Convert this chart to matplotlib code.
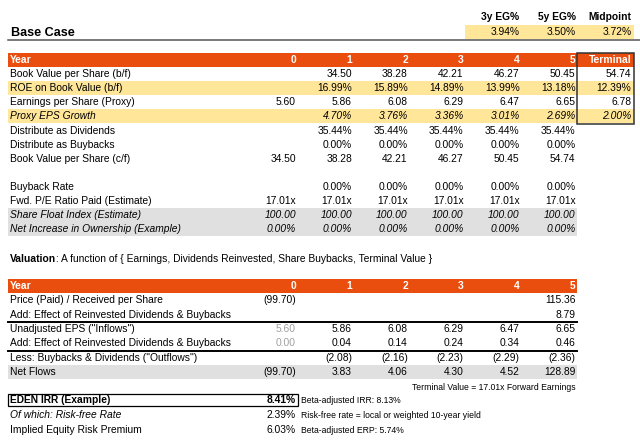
import matplotlib.pyplot as plt
from matplotlib.patches import Rectangle

plt.rcParams['font.family'] = ['Liberation Sans', 'DejaVu Sans']

# ---- data ----
years = ['0', '1', '2', '3', '4', '5']
growth_hdr = ['3y EG%', '5y EG%', 'Midpoint']
growth_vals = [3.94, 3.50, 3.72]

# base case (last entry = Terminal column where present)
bv_bf = [None, 34.50, 38.28, 42.21, 46.27, 50.45, 54.74]
roe = [None, 16.99, 15.89, 14.89, 13.99, 13.18, 12.39]
eps = [5.60, 5.86, 6.08, 6.29, 6.47, 6.65, 6.78]
eps_growth = [None, 4.70, 3.76, 3.36, 3.01, 2.69, 2.00]
div_share = [None, 35.44, 35.44, 35.44, 35.44, 35.44]
buyback_share = [None, 0.00, 0.00, 0.00, 0.00, 0.00]
bv_cf = [34.50, 38.28, 42.21, 46.27, 50.45, 54.74]
buyback_rate = [None, 0.00, 0.00, 0.00, 0.00, 0.00]
pe_paid = [17.01, 17.01, 17.01, 17.01, 17.01, 17.01]
float_index = [100.00, 100.00, 100.00, 100.00, 100.00, 100.00]
net_increase = [0.00, 0.00, 0.00, 0.00, 0.00, 0.00]

# valuation
price = [-99.70, None, None, None, None, 115.36]
reinvest_add = [None, None, None, None, None, 8.79]
unadj_eps = [5.60, 5.86, 6.08, 6.29, 6.47, 6.65]
reinvest_eps = [0.00, 0.04, 0.14, 0.24, 0.34, 0.46]
outflows = [None, -2.08, -2.16, -2.23, -2.29, -2.36]
net_flows = [-99.70, 3.83, 4.06, 4.30, 4.52, 128.89]

irr = 8.41
risk_free = 2.39
erp = 6.03
beta_irr = 8.13
beta_erp = 5.74
terminal_pe = 17.01

ORANGE = '#EA4E0F'
YELLOW = '#FFE699'
GRAY = '#E0E0E0'
FS = 7.4
SMALL = 6.2


def fmt(v, kind):
    if v is None:
        return ''
    if kind == 'pct':
        return '%.2f%%' % v
    if kind == 'x':
        return '%.2fx' % v
    if v < 0:
        return '(%.2f)' % -v
    return '%.2f' % v


fig = plt.figure(figsize=(6.4, 4.41), dpi=100)
ax = fig.add_axes([0, 0, 1, 1])
ax.set_xlim(0, 640)
ax.set_ylim(441, 0)
ax.axis('off')

left, right5, right_t = 8, 577, 633.5
col_r = [296 + 55.9 * k for k in range(7)]

# title and growth box
ax.text(11, 33, 'Base Case', fontsize=9.1, fontweight='bold', va='center')
ax.plot([left, 640], [40, 40], color='#555555', lw=1.1)
ax.add_patch(Rectangle((465, 25), right_t - 465, 14, color=YELLOW, lw=0))
for k in range(3):
    ax.text(col_r[4 + k], 17, growth_hdr[k], fontsize=FS, fontweight='bold', ha='right', va='center')
    ax.text(col_r[4 + k], 32, fmt(growth_vals[k], 'pct'), fontsize=FS, ha='right', va='center')

# base case table
top, rh = 53, 14.1
rows = [
    ('Book Value per Share (b/f)', bv_bf, 'num', None, False),
    ('ROE on Book Value (b/f)', roe, 'pct', YELLOW, False),
    ('Earnings per Share (Proxy)', eps, 'num', None, False),
    ('Proxy EPS Growth', eps_growth, 'pct', YELLOW, True),
    ('Distribute as Dividends', div_share, 'pct', None, False),
    ('Distribute as Buybacks', buyback_share, 'pct', None, False),
    ('Book Value per Share (c/f)', bv_cf, 'num', None, False),
    None,
    ('Buyback Rate', buyback_rate, 'pct', None, False),
    ('Fwd. P/E Ratio Paid (Estimate)', pe_paid, 'x', None, False),
    ('Share Float Index (Estimate)', float_index, 'num', GRAY, True),
    ('Net Increase in Ownership (Example)', net_increase, 'pct', GRAY, True),
]

ax.add_patch(Rectangle((left, top), right_t - left, rh, color=ORANGE, lw=0))
ax.text(10, top + rh / 2, 'Year', color='white', fontsize=FS, fontweight='bold', va='center')
for k, y in enumerate(years + ['Terminal']):
    ax.text(col_r[k], top + rh / 2, y, color='white', fontsize=FS, fontweight='bold', ha='right', va='center')

for i, row in enumerate(rows):
    if row is None:
        continue
    label, vals, kind, bg, ital = row
    y0 = top + rh * (i + 1)
    yc = y0 + rh / 2
    if bg is not None:
        w = (right_t if len(vals) == 7 else right5) - left
        ax.add_patch(Rectangle((left, y0), w, rh, color=bg, lw=0))
    style = 'italic' if ital else 'normal'
    ax.text(10, yc, label, fontsize=FS, style=style, va='center')
    for k, v in enumerate(vals):
        ax.text(col_r[k], yc, fmt(v, kind), fontsize=FS, style=style, ha='right', va='center')

ax.add_patch(Rectangle((right5, top), right_t - right5, rh * 5, fill=False, ec='#333333', lw=1.1))

# valuation section
t1 = ax.text(10, 259, 'Valuation', fontsize=FS, fontweight='bold', va='center')
fig.canvas.draw()
bb = t1.get_window_extent().transformed(ax.transData.inverted())
ax.text(bb.x1, 259, ': A function of { Earnings, Dividends Reinvested, Share Buybacks, Terminal Value }',
        fontsize=FS, va='center')

vtop, vrh = 279, 14.3
ax.add_patch(Rectangle((left, vtop), right5 - left, vrh, color=ORANGE, lw=0))
ax.text(10, vtop + vrh / 2, 'Year', color='white', fontsize=FS, fontweight='bold', va='center')
for k, y in enumerate(years):
    ax.text(col_r[k], vtop + vrh / 2, y, color='white', fontsize=FS, fontweight='bold', ha='right', va='center')

vrows = [
    ('Price (Paid) / Received per Share', price, None),
    ('Add: Effect of Reinvested Dividends & Buybacks', reinvest_add, None),
    ('Unadjusted EPS ("Inflows")', unadj_eps, None),
    ('Add: Effect of Reinvested Dividends & Buybacks', reinvest_eps, None),
    ('Less: Buybacks & Dividends ("Outflows")', outflows, None),
    ('Net Flows', net_flows, GRAY),
]
for i, (label, vals, bg) in enumerate(vrows):
    y0 = vtop + vrh * (i + 1)
    yc = y0 + vrh / 2
    if bg is not None:
        ax.add_patch(Rectangle((left, y0), right5 - left, vrh, color=bg, lw=0))
    ax.text(10, yc, label, fontsize=FS, va='center')
    for k, v in enumerate(vals):
        c = '#A0A0A0' if (k == 0 and i in (2, 3)) else 'black'
        ax.text(col_r[k], yc, fmt(v, 'num'), fontsize=FS, color=c, ha='right', va='center')

for i in (3, 5):
    yl = vtop + vrh * i
    ax.plot([left, right5], [yl, yl], color='black', lw=1.4)

ax.text(col_r[5], 387, 'Terminal Value = %.2fx Forward Earnings' % terminal_pe,
        fontsize=SMALL, ha='right', va='center')

# IRR summary
ax.add_patch(Rectangle((left, 394), 298 - left, 12, fill=False, ec='black', lw=0.9))
summary = [
    ('EDEN IRR (Example)', irr, 'Beta-adjusted IRR: %.2f%%' % beta_irr, 'bold', 'normal', 400),
    ('Of which: Risk-free Rate', risk_free, 'Risk-free rate = local or weighted 10-year yield', 'normal', 'italic', 415.5),
    ('Implied Equity Risk Premium', erp, 'Beta-adjusted ERP: %.2f%%' % beta_erp, 'normal', 'normal', 430),
]
for label, v, note, wt, st, yc in summary:
    ax.text(10, yc, label, fontsize=FS, fontweight=wt, style=st, va='center')
    ax.text(296, yc, fmt(v, 'pct'), fontsize=FS, fontweight=wt, ha='right', va='center')
    ax.text(301, yc + 0.5, note, fontsize=SMALL, va='center')

fig.savefig('out.png', dpi=100)
